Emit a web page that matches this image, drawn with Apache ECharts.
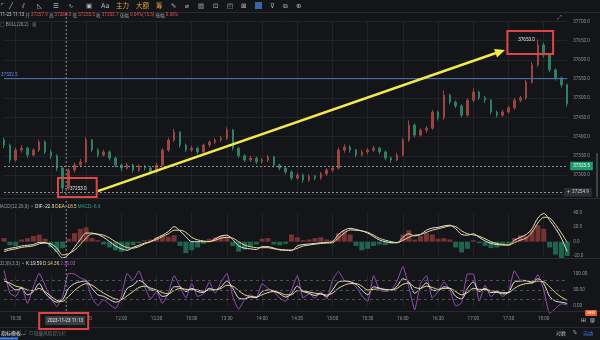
<!DOCTYPE html>
<html><head><meta charset="utf-8">
<script src="https://cdn.jsdelivr.net/npm/echarts@6/dist/echarts.min.js"></script>
<style>html,body{margin:0;padding:0;background:#141519;}#c{width:600px;height:340px;}</style>
</head><body><div id="c"></div>
<script>
// ---------- DATA ----------
const times = ['10:20','10:25','10:30','10:35','10:40','10:45','10:50','10:55',
'11:00','11:05','11:10','11:15','11:20','11:25','11:30','11:35','11:40','11:45','11:50','11:55',
'12:00','12:05','12:10','12:15','12:20','12:25','12:30','12:35','12:40','12:45','12:50','12:55',
'13:00','13:05','13:10','13:15','13:20','13:25','13:30','13:35','13:40','13:45','13:50','13:55',
'14:00','14:05','14:10','14:15','14:20','14:25','14:30','14:35','14:40','14:45','14:50','14:55',
'15:00','15:05','15:10','15:15','15:20','15:25','15:30','15:35','15:40','15:45','15:50','15:55',
'16:00','16:05','16:10','16:15','16:20','16:25','16:30','16:35','16:40','16:45','16:50','16:55',
'17:00','17:05','17:10','17:15','17:20','17:25','17:30','17:35','17:40','17:45','17:50','17:55',
'18:00','18:05','18:10','18:15','18:20'];
// [open, close, low, high]
const candles = [
[37392,37378,37370,37398],[37378,37339,37330,37382],[37339,37365,37335,37372],[37365,37370,37358,37378],
[37370,37352,37345,37374],[37352,37365,37348,37370],[37365,37386,37360,37392],[37386,37360,37355,37390],
[37360,37350,37342,37366],[37350,37318,37310,37354],[37318,37266,37253,37322],[37266,37313,37260,37318],
[37313,37326,37306,37332],[37326,37334,37320,37342],[37334,37391,37330,37398],[37391,37365,37360,37394],
[37365,37352,37346,37370],[37352,37360,37348,37366],[37360,37344,37338,37364],[37344,37326,37320,37348],
[37326,37318,37310,37330],[37318,37326,37314,37332],[37326,37313,37306,37330],[37313,37323,37308,37328],
[37323,37318,37312,37326],[37318,37308,37302,37322],[37308,37326,37304,37332],[37326,37365,37322,37370],
[37365,37391,37360,37398],[37391,37412,37386,37420],[37412,37378,37372,37414],[37378,37365,37360,37382],
[37365,37370,37360,37376],[37370,37360,37354,37374],[37360,37378,37356,37382],[37378,37386,37372,37390],
[37386,37391,37380,37396],[37391,37396,37386,37402],[37396,37417,37392,37424],[37417,37370,37364,37420],
[37370,37350,37344,37374],[37350,37339,37334,37354],[37339,37344,37334,37350],[37344,37334,37328,37348],
[37334,37339,37330,37344],[37339,37347,37334,37352],[37347,37326,37320,37350],[37326,37318,37312,37330],
[37318,37308,37302,37322],[37308,37292,37286,37312],[37292,37300,37288,37306],[37300,37287,37280,37304],
[37287,37297,37282,37302],[37297,37292,37286,37300],[37292,37303,37288,37308],[37303,37313,37298,37318],
[37313,37318,37308,37324],[37318,37365,37314,37372],[37365,37373,37358,37380],[37373,37365,37358,37378],
[37365,37352,37346,37368],[37352,37360,37348,37366],[37360,37365,37354,37370],[37365,37370,37360,37376],
[37370,37360,37354,37374],[37360,37344,37338,37364],[37344,37339,37332,37348],[37339,37352,37336,37358],
[37352,37391,37348,37396],[37391,37430,37386,37442],[37430,37404,37398,37434],[37404,37417,37400,37422],
[37417,37422,37410,37428],[37422,37464,37418,37470],[37464,37449,37442,37468],[37449,37508,37444,37520],
[37508,37490,37484,37512],[37490,37480,37474,37494],[37480,37456,37450,37484],[37456,37495,37452,37500],
[37495,37516,37490,37526],[37516,37501,37496,37520],[37501,37495,37488,37506],[37495,37464,37458,37498],
[37464,37456,37450,37468],[37456,37464,37452,37470],[37464,37475,37460,37480],[37475,37495,37470,37500],
[37495,37501,37490,37506],[37501,37542,37496,37548],[37542,37587,37538,37594],[37587,37639,37582,37653],
[37639,37613,37606,37645],[37613,37574,37568,37616],[37574,37553,37546,37578],[37553,37535,37528,37556],
[37535,37485,37478,37538]];
const macdHist = [5,-5,-6,3,5,8,10,4,-8,-15,-9,4,12,18,20,5,2,-4,-8,-12,-14,-10,-5,-2,2,3,6,9,7,9,
-6,-16,-12,-8,-3,4,6,8,7,-6,-14,-11,-7,-4,4,5,-4,-5,-3,10,6,2,3,5,6,3,2,12,16,10,
-6,-12,-10,-6,-4,-5,-3,-2,10,16,3,8,12,10,4,5,3,-8,-15,-10,2,-2,-6,-9,-8,-4,-3,5,9,8,
16,23,18,-8,-18,-23,-20];
const dif = [-11.6,-9.3,-8,-6,-5,-4,-1,-1,-6,-14,-22.9,-18,-8,3,12,12,10,6,0,-6,
-10,-12,-8,-5,-2,0,5,9,14,21,15,7,0,0,0,0,4,8,9,3,-6,-9,-10,-11,-7,-7,-9,-11.6,-12,-12.6,
-6,-4,-3.3,-2.5,-1.5,-1,0,10,16,18.6,17,15,12,7,2.3,0,-1.4,-1.5,6,11,8,10,16,19,20,22,23,18,10,9,
11,6,1,-2.3,-4,-4.7,-4.7,2,6,10,18,33,39.5,30,18.6,5,-14];
const dea = [-14,-11.6,-10,-8,-7,-6,-3,-2,-3,-9,-18.5,-17,-12,-4,5,11,10.5,9,5,0,
-4.7,-8.4,-9,-7,-3,0,3,7,11,16,16,13,6,2.5,1,0,2,5,6,5,0,-4.7,-7,-8.4,-8.4,-8.4,-10,-10.7,-11.6,-11.6,
-9.3,-6,-4.7,-3.5,-2.5,-2,-1.4,5,12,16.3,16,15,13,9,4.7,2,0,-1.5,2,6,9,10,13,16,18,20,22,21,15,11,
9.5,7.5,4,0,-2.5,-4,-4.7,-1.5,2,5,13,26,34,33,24,12,-1];
const kLine = [85,65,50,55,35,45,70,40,22,12,19.59,55,70,76,78,55,35,30,20,12,
20,55,65,80,70,50,48,30,35,60,60,45,55,45,42,55,50,60,78,55,25,22,28,26,45,50,47,38,28,38,
62,45,40,33,38,30,50,75,78,76,68,50,35,60,56,50,50,62,85,75,40,55,72,50,48,60,55,30,22,55,
75,45,55,42,43,38,42,75,78,79,75,85,70,30,15,12,8];
const dLine = [78,72,62,58,50,48,55,45,30,18,14.36,30,48,62,70,65,52,40,30,22,
20,32,45,58,62,56,50,42,38,48,55,52,52,50,46,50,50,55,65,62,48,35,30,28,35,42,45,42,35,35,
48,47,44,40,38,34,40,55,65,70,70,62,50,52,54,52,50,55,68,72,58,55,62,58,52,55,55,45,35,42,
55,52,52,48,45,42,42,55,65,70,72,78,76,60,42,28,18];
const jLine = [112,40,30,60,8,60,102,65,25,-2,30.03,102,100,88,80,25,2,20,5,-8,
30,102,81,110,60,22,45,8,40,95,60,25,70,30,38,75,40,75,102,30,-10,20,35,25,70,55,45,25,15,50,
95,25,38,25,45,22,81,108,80,76,60,32,15,95,50,45,50,78,123,60,-12,70,95,25,45,75,50,0,10,100,
100,15,65,29,45,30,45,110,81,80,70,98,50,-23,-8,7,3];
const priceAxis = [37250, 37700, 50];   // min, max, step
const macdAxis = [-20, 40, 20];
const kdjAxis = [0, 100, 50];
const kdjLevels = [20, 50, 80];
const blueLevel = 37552.5, lastLevel = 37323.5, refLevel = 37254.9;
const lowMark = ['11:10', 37253.0], highMark = ['17:55', 37653.0];
const crossTime = '11:13', crossDate = '2023-11-23 11:13';
const arrowLine = [['11:40', 37258], ['17:27', 37626]];
const boxLow = [['11:06', 37292], ['11:39', 37243]];
const boxHigh = [['17:29', 37675], ['18:08', 37615]];

// ---------- CHART ----------
const BG = '#141519', AX = '#8b8f97', GRIDC = '#202328';
const FONT = 'Roboto, "Noto Sans CJK SC", sans-serif';
const CJK = '"Noto Sans CJK SC", sans-serif';
const chart = echarts.init(document.getElementById('c'), null, {renderer: 'canvas', width: 600, height: 340});
const halfHour = (i, v) => /:(00|30)$/.test(v);
const xAx = (gi, show) => ({
  type: 'category', gridIndex: gi, data: times, boundaryGap: false,
  axisLine: {show: false}, axisTick: {show: false},
  axisLabel: {show: show, interval: halfHour, color: AX, fontSize: 4.6, fontFamily: FONT, margin: 11},
  splitLine: {show: true, interval: halfHour, lineStyle: {color: GRIDC, width: 1}}
});
const yAx = (gi, a, dec, split, extra) => Object.assign({
  type: 'value', gridIndex: gi, position: 'right', min: a[0], max: a[1], interval: a[2],
  axisLine: {show: false}, axisTick: {show: false},
  axisLabel: {color: AX, fontSize: 4.6, fontFamily: FONT, margin: 6, formatter: v => v.toFixed(dec)},
  splitLine: {show: split, lineStyle: {color: GRIDC}}
}, extra || {});
const gridBase = {left: 4, right: 32.8, outerBoundsMode: 'none', containLabel: false};
const lab = (fs) => ({fontSize: fs, fontFamily: FONT});

chart.setOption({
  backgroundColor: BG, animation: false,
  grid: [
    Object.assign({top: 21.5, height: 172.7}, gridBase),
    Object.assign({top: 213, height: 43}, gridBase),
    Object.assign({top: 274, height: 32}, gridBase)
  ],
  xAxis: [xAx(0, false), xAx(1, false), xAx(2, true)],
  yAxis: [
    yAx(0, priceAxis, 1, true, {scale: true, axisLabel: {color: AX, fontSize: 4.6, fontFamily: FONT, margin: 6, showMinLabel: false, formatter: v => v.toFixed(1)}}),
    yAx(1, macdAxis, 1, false),
    yAx(2, kdjAxis, 2, false)
  ],
  series: [
    {type: 'candlestick', xAxisIndex: 0, yAxisIndex: 0, data: candles, barWidth: 2,
      itemStyle: {color: '#9c4540', color0: '#2d8063', borderColor: '#9c4540', borderColor0: '#2d8063', borderWidth: 1},
      markLine: {symbol: ['none', 'none'], silent: true, animation: false,
        data: [
          {yAxis: blueLevel, lineStyle: {color: '#4c6ca8', type: 'solid', width: 1},
            label: Object.assign({show: true, position: 'insideStartTop', formatter: blueLevel.toFixed(1), color: '#5b8ff0', distance: [-3, 1]}, lab(4.6))},
          {yAxis: lastLevel, lineStyle: {color: '#8d9097', type: [2, 2], width: 1},
            label: Object.assign({show: true, position: 'end', formatter: lastLevel.toFixed(1), color: '#ffffff', backgroundColor: '#1f9a6a', padding: [2, 3], distance: 3}, lab(4.6))},
          {yAxis: refLevel, lineStyle: {color: '#8d9097', type: [2, 2], width: 1},
            label: Object.assign({show: true, position: 'end', formatter: '+  ' + refLevel.toFixed(1), color: '#d0d2d6', backgroundColor: '#2b2e35', padding: [2, 3], distance: -3}, lab(4.6))}
        ]},
      markPoint: {symbol: 'circle', symbolSize: 0, silent: true, animation: false,
        data: [
          {coord: [times.indexOf(highMark[0]), highMark[1]], label: Object.assign({show: true, position: 'left', distance: 3, formatter: highMark[1].toFixed(1), color: '#e6e6e6'}, lab(4.6))},
          {coord: [times.indexOf(lowMark[0]), lowMark[1]], label: Object.assign({show: true, position: 'right', distance: 2, offset: [0, -4], formatter: '–  ' + lowMark[1].toFixed(1), color: '#e6e6e6'}, lab(4.6))}
        ]}
    },
    {type: 'bar', xAxisIndex: 1, yAxisIndex: 1, data: macdHist, barWidth: 5, clip: false,
      itemStyle: {color: p => p.value >= 0 ? '#763333' : '#1d654c'}},
    {type: 'line', xAxisIndex: 1, yAxisIndex: 1, data: dif, showSymbol: false, smooth: 0.3, clip: false,
      lineStyle: {color: '#e4e4e4', width: 1}},
    {type: 'line', xAxisIndex: 1, yAxisIndex: 1, data: dea, showSymbol: false, smooth: 0.3, clip: false,
      lineStyle: {color: '#e9d98e', width: 1}},
    {type: 'line', xAxisIndex: 2, yAxisIndex: 2, data: jLine, showSymbol: false, smooth: 0.15, clip: false,
      lineStyle: {color: '#9a4db8', width: 1},
      markLine: {symbol: ['none', 'none'], silent: true, animation: false, label: {show: false},
        lineStyle: {color: '#4d5057', type: [3, 3], width: 1},
        data: kdjLevels.map(v => ({yAxis: v}))}},
    {type: 'line', xAxisIndex: 2, yAxisIndex: 2, data: dLine, showSymbol: false, smooth: 0.3, clip: false,
      lineStyle: {color: '#e9d98e', width: 1}},
    {type: 'line', xAxisIndex: 2, yAxisIndex: 2, data: kLine, showSymbol: false, smooth: 0.3, clip: false,
      lineStyle: {color: '#e4e4e4', width: 1}}
  ]
});

// ---------- ANNOTATIONS (positioned through the axes) ----------
const idxOf = t => { const p = t.split(':').map(Number); return (p[0] * 60 + p[1] - 620) / 5; };
function px(t, price) {
  const f = idxOf(t), i0 = Math.floor(f), fr = f - i0;
  const a = chart.convertToPixel({gridIndex: 0}, [i0, price]);
  const b = chart.convertToPixel({gridIndex: 0}, [i0 + 1, price]);
  return [a[0] + fr * (b[0] - a[0]), a[1]];
}
const G = [];
const txt = (x, y, text, fill, fs, fam, extra) => G.push(Object.assign({type: 'text', x: x, y: y, z: 50,
  style: {text: text, fill: fill, fontSize: fs, fontFamily: fam || FONT, verticalAlign: 'middle'}}, extra || {}));
const hline = (y, x1, x2, c) => G.push({type: 'line', z: 40, shape: {x1: x1, y1: y, x2: x2, y2: y}, style: {stroke: c, lineWidth: 1}});

// panel separators
hline(12.5, 0, 600, '#26292f');
hline(198.5, 0, 600, '#2a2d33');
hline(258.5, 0, 600, '#2a2d33');
hline(311.5, 0, 600, '#26292f');
hline(327.5, 0, 600, '#26292f');

// toolbar
const tools = [[1,'⌜'],[9,'╱'],[22,'⫽'],[37,'◺'],[53,'☰'],[68,'∿'],[86,'▣'],[101,'Aa'],
  [171,'✎'],[185,'⌀'],[198,'▥'],[213,'⊡'],[227,'◰'],[241,'⊠'],[270,'⊽'],[283,'⧉'],[296,'⊕']];
tools.forEach(t => txt(t[0], 6, t[1], '#b4b8c0', 6.5, '"DejaVu Sans", sans-serif'));
G.push({type: 'rect', z: 45, shape: {x: 255, y: 2, width: 7, height: 7}, style: {fill: '#3a64a8'}});
txt(116, 6, '主力', '#d7a13c', 6.5, CJK);
txt(136, 6, '大额', '#d7a13c', 6.5, CJK);
txt(156, 6, '筹', '#d7a13c', 6.5, CJK);

// info lines
G.push({type: 'text', x: 0, y: 15, z: 50, style: {
  text: '{w|11-23 11:13} {g|开} {r|37257.9} {g|高} {r|37260.0} {g|低} {r|37255.5} {g|收} {r|37253.7} {g|涨幅} {r|0.04%(15.5)} {g|振幅} {r|0.06%}',
  fontSize: 4.6, fontFamily: FONT, fill: '#9a9da3', verticalAlign: 'middle',
  rich: {w: {fill: '#c8cacf', fontSize: 4.6, fontFamily: FONT}, g: {fill: '#9a9da3', fontSize: 4.6, fontFamily: CJK},
         r: {fill: '#e0524e', fontSize: 4.6, fontFamily: FONT}}}});
txt(0, 25, '○ BOLL(20,2)   ⊗', '#9a9da3', 4.6);
txt(557, 17, '⤢', '#8d9097', 6, '"DejaVu Sans", sans-serif');
G.push({type: 'text', x: -3, y: 207, z: 50, style: {
  text: '{g|MACD(12,26,9)}  {g|•}  {w|DIF:-22.9} {y|DEA:-18.5} {n|MACD:-8.9}',
  fontSize: 4.6, fontFamily: FONT, verticalAlign: 'middle',
  rich: {g: {fill: '#9a9da3', fontSize: 4.6}, w: {fill: '#e4e4e4', fontSize: 4.6}, y: {fill: '#e9d98e', fontSize: 4.6}, n: {fill: '#2fa27a', fontSize: 4.6}}}});
G.push({type: 'text', x: -2, y: 264, z: 50, style: {
  text: '{g|KDJ(9,3,3)}  {g|•}  {w|K:19.59} {y|D:14.36} {p|J:30.03}',
  fontSize: 4.6, fontFamily: FONT, verticalAlign: 'middle',
  rich: {g: {fill: '#9a9da3', fontSize: 4.6}, w: {fill: '#e4e4e4', fontSize: 4.6}, y: {fill: '#e9d98e', fontSize: 4.6}, p: {fill: '#c05ad8', fontSize: 4.6}}}});

// crosshair
const cx = px(crossTime, priceAxis[1])[0];
G.push({type: 'line', z: 30, shape: {x1: cx, y1: 13, x2: cx, y2: 311}, style: {stroke: '#8d9097', lineWidth: 1, lineDash: [2, 2]}});

// date tag with red frame
G.push({type: 'rect', z: 60, shape: {x: cx - 27, y: 313, width: 49, height: 16}, style: {fill: BG, stroke: '#e04545', lineWidth: 2}});
G.push({type: 'rect', z: 61, shape: {x: cx - 21, y: 316, width: 40, height: 9}, style: {fill: '#3a3d44'}});
G.push({type: 'text', z: 62, x: cx - 1, y: 320.5, style: {text: crossDate, fill: '#e8e8e8', fontSize: 4.6, fontFamily: FONT, align: 'center', verticalAlign: 'middle'}});

// red boxes
[boxLow, boxHigh].forEach(b => {
  const p1 = px(b[0][0], b[0][1]), p2 = px(b[1][0], b[1][1]);
  G.push({type: 'rect', z: 70, shape: {x: p1[0], y: p1[1], width: p2[0] - p1[0], height: p2[1] - p1[1]},
    style: {fill: null, stroke: '#e04545', lineWidth: 2}});
});

// yellow arrow
const S = px(arrowLine[0][0], arrowLine[0][1]), E = px(arrowLine[1][0], arrowLine[1][1]);
const dx = E[0] - S[0], dy = E[1] - S[1], L = Math.hypot(dx, dy), ux = dx / L, uy = dy / L;
const hl = 10, hw = 4.5;
G.push({type: 'line', z: 80, shape: {x1: S[0], y1: S[1], x2: E[0] - ux * hl * 0.8, y2: E[1] - uy * hl * 0.8},
  style: {stroke: '#f3e94a', lineWidth: 2.5}});
G.push({type: 'polygon', z: 80, shape: {points: [
  [E[0], E[1]],
  [E[0] - ux * hl - uy * hw, E[1] - uy * hl + ux * hw],
  [E[0] - ux * hl + uy * hw, E[1] - uy * hl - ux * hw]]}, style: {fill: '#f3e94a'}});

// right scrollbar + bottom bar
G.push({type: 'rect', z: 40, shape: {x: 596, y: 153, width: 2, height: 44}, style: {fill: '#3e4148'}});
txt(1, 333, '指标模板...', '#e8e8e8', 5, CJK);
G.push({type: 'rect', z: 40, shape: {x: 0, y: 337.5, width: 18, height: 2}, style: {fill: '#3d8bfd'}});
txt(25, 333, '|', '#55585f', 5, FONT);
txt(29, 333, '☐ 隐藏风险提示栏', '#6f7279', 4.6, CJK);
txt(556, 333, '对数', '#b9bcc2', 5, CJK);
txt(573, 333, '%', '#b9bcc2', 5, FONT);
txt(583, 333, '自动', '#3d8bfd', 5, CJK);
txt(581, 320, '⊞', '#b9bcc2', 6, '"DejaVu Sans", sans-serif');
txt(590, 320, '聊', '#b9bcc2', 5, CJK);
G.push({type: 'rect', z: 55, shape: {x: 585, y: 310, width: 12, height: 6, r: 1}, style: {fill: '#e8612c'}});
G.push({type: 'text', z: 56, x: 591, y: 313, style: {text: 'NEW', fill: '#fff', fontSize: 3.5, fontFamily: FONT, align: 'center', verticalAlign: 'middle'}});

chart.setOption({graphic: G});
</script></body></html>
